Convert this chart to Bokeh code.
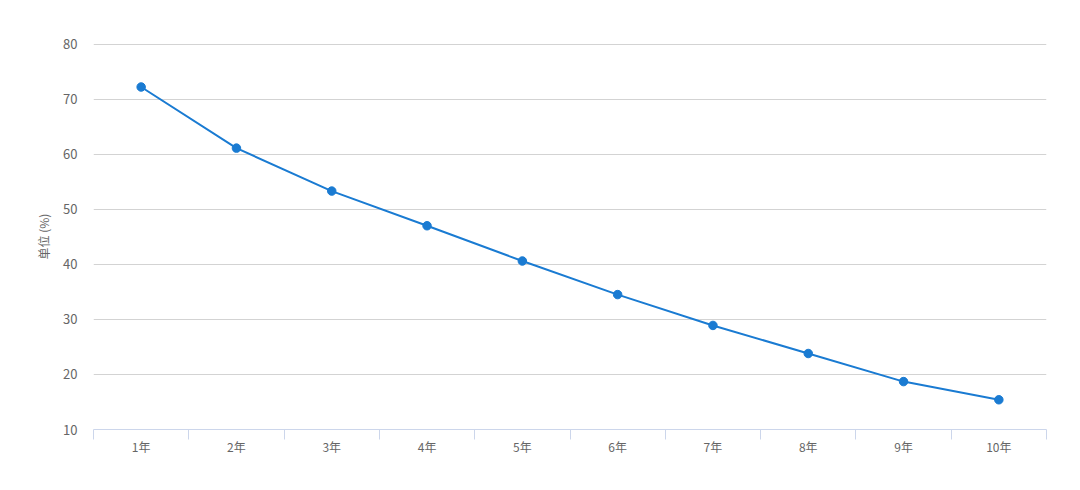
from bokeh.plotting import figure
from bokeh.models import FixedTicker, Range1d
from bokeh.embed import file_html
from bokeh.resources import INLINE

categories = ["1年", "2年", "3年", "4年", "5年", "6年", "7年", "8年", "9年", "10年"]
values = [72.2, 61.1, 53.3, 47.0, 40.6, 34.5, 28.9, 23.8, 18.7, 15.4]
y_ticks = [10, 20, 30, 40, 50, 60, 70, 80]

xs = list(range(1, len(categories) + 1))
font = "Noto Sans CJK SC"
blue = "#1a7bd2"

p = figure(width=1064, height=474, output_backend="svg", toolbar_location=None,
           x_range=Range1d(0.5, len(categories) + 0.5), y_range=Range1d(10, 80.1),
           min_border_left=93, min_border_right=18, min_border_top=43, min_border_bottom=45)
p.outline_line_color = None
p.background_fill_color = "white"

p.line(xs, values, line_color=blue, line_width=2)
p.scatter(xs, values, size=8.5, fill_color=blue, line_color=blue)

# x axis
p.xaxis.ticker = FixedTicker(ticks=xs, minor_ticks=[x - 0.5 for x in xs] + [len(xs) + 0.5])
p.xaxis.major_label_overrides = {x: c for x, c in zip(xs, categories)}
p.xaxis.major_tick_line_color = None
p.xaxis.minor_tick_line_color = "#ccd6eb"
p.xaxis.minor_tick_out = 10
p.xaxis.minor_tick_in = 0
p.xaxis.axis_line_color = "#ccd6eb"
p.xaxis.major_label_text_font = font
p.xaxis.major_label_text_font_size = "12px"
p.xaxis.major_label_text_color = "#666666"
p.xaxis.major_label_standoff = -2
p.xgrid.grid_line_color = None

# y axis
p.yaxis.ticker = FixedTicker(ticks=y_ticks)
p.yaxis.axis_line_color = None
p.yaxis.major_tick_line_color = None
p.yaxis.minor_tick_line_color = None
p.yaxis.major_label_text_font = font
p.yaxis.major_label_text_font_size = "13px"
p.yaxis.major_label_text_color = "#666666"
p.yaxis.major_label_standoff = 10
p.yaxis.axis_label = "单位 (%)"
p.yaxis.axis_label_text_font = font
p.yaxis.axis_label_text_font_size = "12px"
p.yaxis.axis_label_text_font_style = "normal"
p.yaxis.axis_label_text_color = "#666666"
p.yaxis.axis_label_standoff = 8
p.ygrid.grid_line_color = "#d3d3d3"
p.ygrid.grid_line_width = 1

open("out.html", "w").write(file_html(p, INLINE))
